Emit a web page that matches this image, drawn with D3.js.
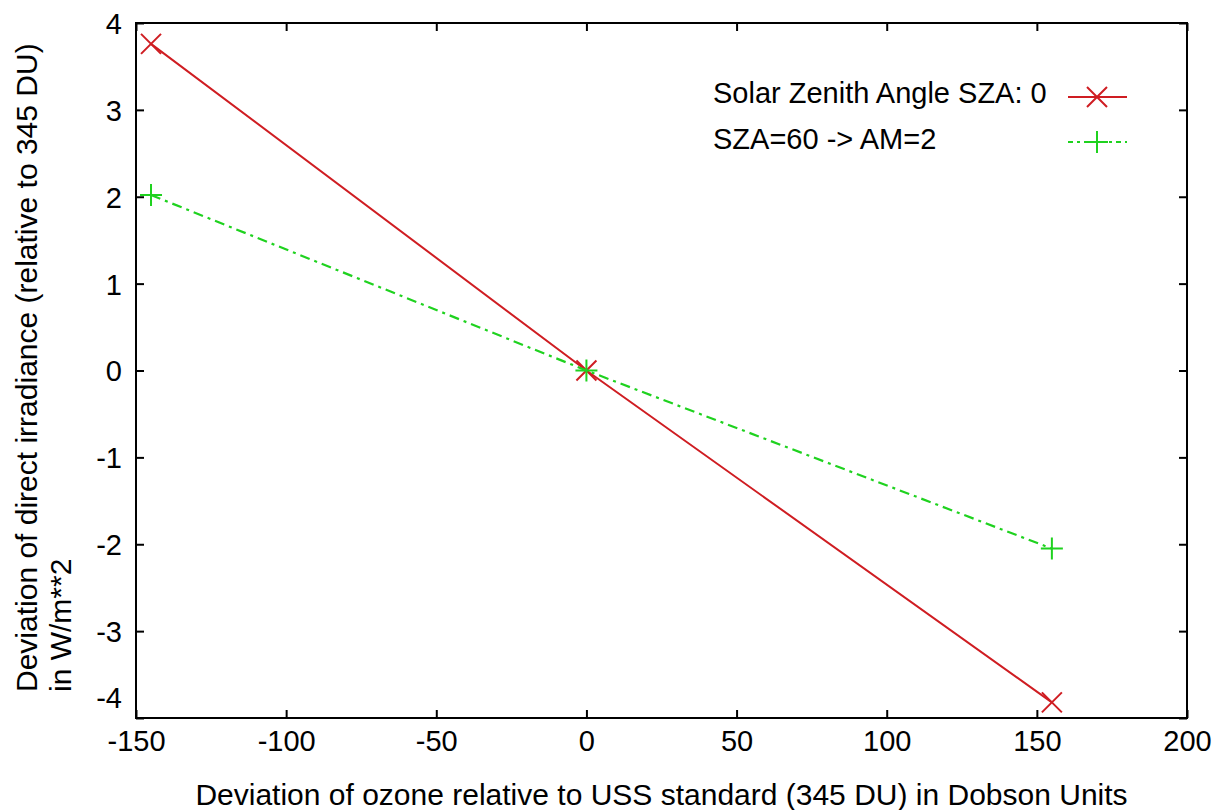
<!DOCTYPE html>
<html>
<head>
<meta charset="utf-8">
<script src="https://cdn.jsdelivr.net/npm/d3@7"></script>
<style>
  html, body { margin: 0; padding: 0; background: #fff; }
  svg { display: block; }
  text { font-family: "Liberation Sans", Arial, sans-serif; fill: #000; }
</style>
</head>
<body>
<svg id="chart" width="1223" height="810"></svg>
<script>
// ---- data ----
const xTicks = [-150, -100, -50, 0, 50, 100, 150, 200];
const yTicks = [-4, -3, -2, -1, 0, 1, 2, 3, 4];
const ozoneDeviation = [-145, 0, 155];
const sza0Values = [3.76, 0, -3.82];
const sza60Values = [2.02, 0, -2.05];
const seriesNames = ["Solar Zenith Angle SZA: 0", "SZA=60 -> AM=2"];
const xLabel = "Deviation of ozone relative to USS standard (345 DU) in Dobson Units";
const yLabelLines = ["Deviation of direct irradiance (relative to 345 DU)", "in W/m**2"];

// ---- layout ----
const W = 1223, H = 810;
const plot = { left: 136, right: 1187, top: 23, bottom: 718 };
const axisFont = 29, labelFont = 30, legendFont = 29;
const red = "#cf1d22", green = "#1fd21f";
const fmt = d => String(d);

const svg = d3.select("#chart");
svg.append("rect").attr("width", W).attr("height", H).attr("fill", "#fff");

const x = d3.scaleLinear().domain([-150, 200]).range([plot.left, plot.right]);
const y = d3.scaleLinear().domain([-4, 4]).range([plot.bottom, plot.top]);

function styleAxis(g) {
  g.select(".domain").remove();
  g.selectAll(".tick line").attr("stroke", "#000").attr("stroke-width", 2);
  g.selectAll(".tick text").attr("font-size", axisFont)
    .attr("font-family", '"Liberation Sans", Arial, sans-serif').attr("fill", "#000");
}

// bottom axis
const gB = svg.append("g").attr("transform", `translate(0,${plot.bottom})`)
  .call(d3.axisBottom(x).tickValues(xTicks).tickSize(-8).tickPadding(12).tickFormat(fmt));
styleAxis(gB);

// top axis (mirror ticks)
const gT = svg.append("g").attr("transform", `translate(0,${plot.top})`)
  .call(d3.axisTop(x).tickValues(xTicks).tickSize(-8).tickFormat(""));
styleAxis(gT);

// left axis
const gL = svg.append("g").attr("transform", `translate(${plot.left},0)`)
  .call(d3.axisLeft(y).tickValues(yTicks).tickSize(-8).tickPadding(14).tickFormat(fmt));
styleAxis(gL);
gL.selectAll(".tick text").attr("dy", "0.36em");
gL.selectAll(".tick text").filter(d => d === -4).attr("y", -21);

// right axis (mirror ticks)
const gR = svg.append("g").attr("transform", `translate(${plot.right},0)`)
  .call(d3.axisRight(y).tickValues(yTicks).tickSize(-8).tickFormat(""));
styleAxis(gR);

// border
svg.append("rect")
  .attr("x", plot.left).attr("y", plot.top)
  .attr("width", plot.right - plot.left).attr("height", plot.bottom - plot.top)
  .attr("fill", "none").attr("stroke", "#000").attr("stroke-width", 2);

// axis labels
svg.append("text")
  .attr("x", (plot.left + plot.right) / 2).attr("y", 805)
  .attr("text-anchor", "middle").attr("font-size", labelFont).text(xLabel);

yLabelLines.forEach((t, i) => {
  svg.append("text")
    .attr("transform", `translate(${37 + i * 34},692) rotate(-90)`)
    .attr("text-anchor", "start").attr("font-size", labelFont).text(t);
});

// markers
function crossX(g, cx, cy, color) {
  const s = 10;
  g.append("path").attr("d", `M${cx - s},${cy - s}L${cx + s},${cy + s}M${cx - s},${cy + s}L${cx + s},${cy - s}`)
    .attr("stroke", color).attr("stroke-width", 2).attr("fill", "none");
}
function crossPlus(g, cx, cy, color) {
  const s = 11;
  g.append("path").attr("d", `M${cx - s},${cy}L${cx + s},${cy}M${cx},${cy - s}L${cx},${cy + s}`)
    .attr("stroke", color).attr("stroke-width", 2).attr("fill", "none");
}

const line = d3.line().x(d => x(d[0])).y(d => y(d[1]));
const redPts = ozoneDeviation.map((v, i) => [v, sza0Values[i]]);
const greenPts = ozoneDeviation.map((v, i) => [v, sza60Values[i]]);

const gData = svg.append("g");
gData.append("path").attr("d", line(redPts)).attr("fill", "none")
  .attr("stroke", red).attr("stroke-width", 2);
redPts.forEach(p => crossX(gData, x(p[0]), y(p[1]), red));

gData.append("path").attr("d", line(greenPts)).attr("fill", "none")
  .attr("stroke", green).attr("stroke-width", 2.2).attr("stroke-dasharray", "10,5,3,5");
greenPts.forEach(p => crossPlus(gData, x(p[0]), y(p[1]), green));

// legend
const gLeg = svg.append("g");
const legRows = [
  { name: seriesNames[0], color: red, dash: null, marker: crossX, base: 103, ly: 97 },
  { name: seriesNames[1], color: green, dash: "5,4,3,4", marker: crossPlus, base: 149, ly: 142 }
];
legRows.forEach(r => {
  gLeg.append("text").attr("x", 713).attr("y", r.base).attr("font-size", legendFont).text(r.name);
  const l = gLeg.append("line").attr("x1", 1068).attr("x2", 1127).attr("y1", r.ly).attr("y2", r.ly)
    .attr("stroke", r.color).attr("stroke-width", 2);
  if (r.dash) l.attr("stroke-dasharray", r.dash);
  r.marker(gLeg, 1097, r.ly, r.color);
});
</script>
</body>
</html>
